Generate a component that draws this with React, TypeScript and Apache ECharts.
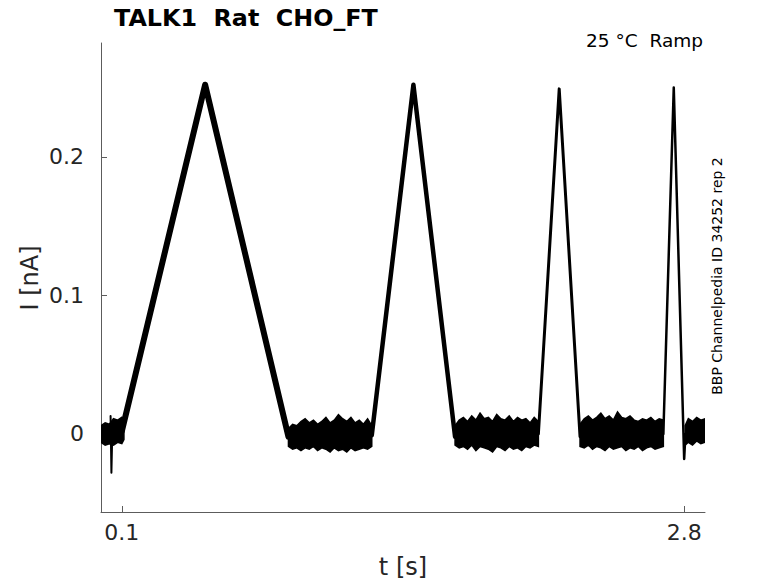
import React, { useEffect, useRef } from "react";
import * as echarts from "echarts";

// ---- data ----
const X_TICKS = [0.1, 2.8];
const Y_TICKS = [0, 0.1, 0.2];

// ramp segments of the trace: [t (s), I (nA)]
const RAMP1 = [[0.1, 0.002], [0.5, 0.252], [0.9, -0.002]];
const RAMP2 = [[1.3, -0.001], [1.5, 0.252], [1.7, -0.002]];
const RAMP3 = [[2.1, 0.0], [2.2, 0.249], [2.3, -0.002]];
const RAMP4 = [[2.7, 0.0], [2.75, 0.25], [2.8, -0.018], [2.806, 0.0]];
const START_SPIKE = [[0.046, 0.013], [0.05, -0.028], [0.054, 0.0]];

// noisy baseline envelopes (upper / lower edges of the band)
const NOISE0_T = [0, 0.02, 0.04, 0.06, 0.08, 0.1, 0.11];
const NOISE0_HI = [0.006, 0.008, 0.007, 0.011, 0.01, 0.012, 0.01];
const NOISE0_LO = [-0.006, -0.008, -0.007, -0.008, -0.006, -0.007, -0.004];

const NOISE1_T = [0.9, 0.92, 0.94, 0.96, 0.98, 1.0, 1.02, 1.04, 1.06, 1.08, 1.1, 1.12, 1.14, 1.16, 1.18, 1.2, 1.22, 1.24, 1.26, 1.28, 1.3];
const NOISE1_HI = [0.004, 0.007, 0.006, 0.009, 0.011, 0.008, 0.01, 0.007, 0.009, 0.012, 0.008, 0.01, 0.014, 0.011, 0.009, 0.012, 0.008, 0.01, 0.007, 0.011, 0.006];
const NOISE1_LO = [-0.009, -0.011, -0.01, -0.012, -0.01, -0.011, -0.009, -0.012, -0.01, -0.011, -0.013, -0.01, -0.012, -0.011, -0.013, -0.01, -0.012, -0.011, -0.01, -0.011, -0.009];

const NOISE2_T = [1.7, 1.72, 1.74, 1.76, 1.78, 1.8, 1.82, 1.84, 1.86, 1.88, 1.9, 1.92, 1.94, 1.96, 1.98, 2.0, 2.02, 2.04, 2.06, 2.08, 2.1];
const NOISE2_HI = [0.006, 0.01, 0.012, 0.009, 0.013, 0.01, 0.015, 0.011, 0.012, 0.009, 0.014, 0.011, 0.01, 0.013, 0.009, 0.012, 0.01, 0.011, 0.008, 0.012, 0.009];
const NOISE2_LO = [-0.008, -0.01, -0.009, -0.011, -0.008, -0.012, -0.009, -0.01, -0.011, -0.013, -0.009, -0.01, -0.012, -0.009, -0.011, -0.01, -0.012, -0.009, -0.01, -0.008, -0.009];

const NOISE3_T = [2.3, 2.32, 2.34, 2.36, 2.38, 2.4, 2.42, 2.44, 2.46, 2.48, 2.5, 2.52, 2.54, 2.56, 2.58, 2.6, 2.62, 2.64, 2.66, 2.68, 2.7];
const NOISE3_HI = [0.007, 0.011, 0.013, 0.01, 0.012, 0.015, 0.011, 0.013, 0.01, 0.016, 0.012, 0.011, 0.013, 0.01, 0.009, 0.011, 0.01, 0.012, 0.009, 0.011, 0.01];
const NOISE3_LO = [-0.009, -0.01, -0.008, -0.011, -0.009, -0.01, -0.012, -0.009, -0.011, -0.01, -0.009, -0.012, -0.01, -0.011, -0.009, -0.012, -0.01, -0.009, -0.011, -0.01, -0.009];

const NOISE4_T = [2.805, 2.82, 2.84, 2.86, 2.88, 2.9];
const NOISE4_HI = [0.006, 0.011, 0.009, 0.012, 0.01, 0.011];
const NOISE4_LO = [-0.008, -0.006, -0.008, -0.005, -0.007, -0.006];

const NOISE_SEGMENTS = [
  { t: NOISE0_T, hi: NOISE0_HI, lo: NOISE0_LO },
  { t: NOISE1_T, hi: NOISE1_HI, lo: NOISE1_LO },
  { t: NOISE2_T, hi: NOISE2_HI, lo: NOISE2_LO },
  { t: NOISE3_T, hi: NOISE3_HI, lo: NOISE3_LO },
  { t: NOISE4_T, hi: NOISE4_HI, lo: NOISE4_LO },
];

const FONT = '"DejaVu Sans", sans-serif';
const AXIS_COLOR = "#5c5c5c";
const TEXT_COLOR = "#262626";

function lineSeries(data: number[][], width: number) {
  return {
    type: "line",
    data,
    showSymbol: false,
    symbol: "none",
    silent: true,
    lineStyle: { color: "#000", width, join: "round", cap: "round" },
    z: 3,
  };
}

export default function App() {
  const ref = useRef<HTMLDivElement>(null);

  useEffect(() => {
    if (!ref.current) return;
    const chart = echarts.init(ref.current, undefined, { renderer: "svg" });
    const option: any = {
      animation: false,
      grid: { left: 101, right: 73, top: 43, bottom: 71, containLabel: false },
      xAxis: {
        type: "value",
        min: 0,
        max: 2.9,
        splitLine: { show: false },
        axisLine: { onZero: false, lineStyle: { color: AXIS_COLOR, width: 1 } },
        axisTick: { customValues: X_TICKS, inside: true, length: 6, lineStyle: { color: AXIS_COLOR } },
        axisLabel: {
          customValues: X_TICKS,
          margin: 9,
          color: TEXT_COLOR,
          fontSize: 22,
          fontFamily: FONT,
          formatter: (v: number) => String(v),
        },
      },
      yAxis: {
        type: "value",
        min: -0.0563,
        max: 0.2821,
        splitLine: { show: false },
        axisLine: { show: true, onZero: false, lineStyle: { color: AXIS_COLOR, width: 1 } },
        axisTick: { show: true, customValues: Y_TICKS, inside: true, length: 6, lineStyle: { color: AXIS_COLOR } },
        axisLabel: {
          customValues: Y_TICKS,
          margin: 17,
          color: TEXT_COLOR,
          fontSize: 22,
          fontFamily: FONT,
          formatter: (v: number) => (v === 0 ? "0" : String(v)),
        },
      },
      series: [
        {
          type: "custom",
          silent: true,
          clip: true,
          z: 2,
          data: NOISE_SEGMENTS.map((s, i) => [s.t[0], 0, i]),
          encode: { x: 0, y: 1 },
          renderItem: (params: any, api: any) => {
            const seg = NOISE_SEGMENTS[api.value(2)];
            const pts: number[][] = [];
            for (let k = 0; k < seg.t.length; k++) pts.push(api.coord([seg.t[k], seg.hi[k]]));
            for (let k = seg.t.length - 1; k >= 0; k--) pts.push(api.coord([seg.t[k], seg.lo[k]]));
            return {
              type: "polygon",
              shape: { points: pts },
              style: { fill: "#000", stroke: "#000", lineWidth: 1.5, lineJoin: "miter" },
            };
          },
        },
        lineSeries(RAMP1, 6),
        lineSeries(RAMP2, 4.5),
        lineSeries(RAMP3, 3),
        lineSeries(RAMP4, 2.5),
        lineSeries(START_SPIKE, 2),
      ],
      graphic: [
        {
          type: "text",
          x: 114,
          y: 18,
          style: {
            text: "TALK1  Rat  CHO_FT",
            font: `bold 23.8px ${FONT}`,
            fill: "#000",
            align: "left",
            verticalAlign: "middle",
          },
        },
        {
          type: "text",
          x: 703,
          y: 40,
          style: {
            text: "25 °C  Ramp",
            font: `18.5px ${FONT}`,
            fill: "#000",
            align: "right",
            verticalAlign: "middle",
          },
        },
        {
          type: "text",
          x: 716.5,
          y: 276,
          rotation: Math.PI / 2,
          style: {
            text: "BBP Channelpedia ID 34252 rep 2",
            font: `14px ${FONT}`,
            fill: "#000",
            align: "center",
            verticalAlign: "middle",
          },
        },
        {
          type: "text",
          x: 403,
          y: 567,
          style: {
            text: "t [s]",
            font: `24px ${FONT}`,
            fill: TEXT_COLOR,
            align: "center",
            verticalAlign: "middle",
          },
        },
        {
          type: "text",
          x: 30,
          y: 278,
          rotation: Math.PI / 2,
          style: {
            text: "I [nA]",
            font: `24px ${FONT}`,
            fill: TEXT_COLOR,
            align: "center",
            verticalAlign: "middle",
          },
        },
      ],
    };
    chart.setOption(option);
    return () => chart.dispose();
  }, []);

  return (
    <div
      ref={ref}
      style={{ position: "absolute", left: 0, top: 0, width: 778, height: 583, background: "#fff" }}
    />
  );
}
